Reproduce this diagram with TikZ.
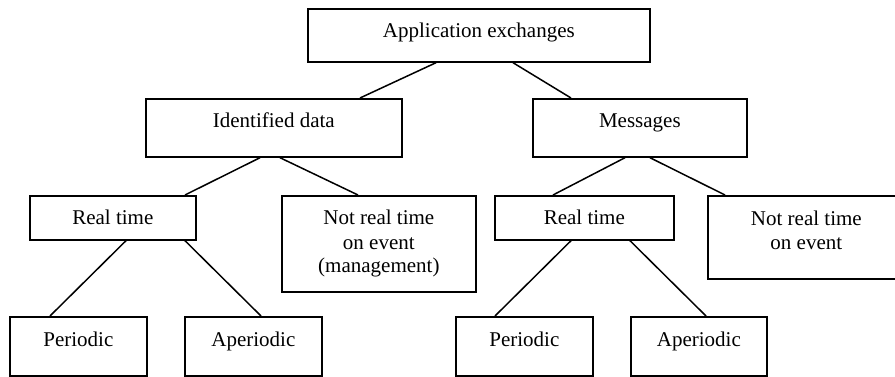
\documentclass[tikz,border=0pt]{standalone}
\usepackage{fontspec}
\setmainfont{Liberation Serif}
\tikzset{
  box/.style={draw=black, line width=1.7pt, rectangle, inner sep=0pt, anchor=north west},
  lbl/.style={anchor=north, inner sep=0pt, align=center, font=\fontsize{21}{24}\selectfont},
  link/.style={draw=black, line width=1.5pt}
}
\begin{document}
\begin{tikzpicture}[x=1pt,y=-1pt]
\useasboundingbox (0,0) rectangle (895,377);
% boxes
\node[box, minimum width=342pt, minimum height=53pt] (app) at (307,8) {};
\node[box, minimum width=256pt, minimum height=58pt] (idd) at (145,98) {};
\node[box, minimum width=214pt, minimum height=58pt] (msg) at (532,98) {};
\node[box, minimum width=166pt, minimum height=44pt] (rtl) at (29,195) {};
\node[box, minimum width=194pt, minimum height=96pt] (nrl) at (281,195) {};
\node[box, minimum width=179pt, minimum height=44pt] (rtr) at (494,195) {};
\node[box, minimum width=197pt, minimum height=83pt] (nrr) at (707,195) {};
\node[box, minimum width=137pt, minimum height=59pt] (pl) at (9,316) {};
\node[box, minimum width=137pt, minimum height=59pt] (al) at (184,316) {};
\node[box, minimum width=137pt, minimum height=59pt] (pr) at (455,316) {};
\node[box, minimum width=136pt, minimum height=59pt] (ar) at (630,316) {};
% labels
\node[lbl] (tapp) at ([yshift=-13pt]app.north) {\strut Application exchanges};
\node[lbl] (tidd) at ([yshift=-13pt]idd.north) {\strut Identified data};
\node[lbl] (tmsg) at ([yshift=-13pt]msg.north) {\strut Messages};
\node[lbl] (trtl) at ([yshift=-13pt]rtl.north) {\strut Real time};
\node[lbl] (tnrl) at ([yshift=-13pt]nrl.north) {\strut Not real time\\\strut on event\\\strut (management)};
\node[lbl] (trtr) at ([yshift=-13pt]rtr.north) {\strut Real time};
\node[lbl] (tnrr) at ([yshift=-13pt]nrr.north) {\strut Not real time\\\strut on event};
\node[lbl] (tpl) at ([yshift=-13pt]pl.north) {\strut Periodic};
\node[lbl] (tal) at ([yshift=-13pt]al.north) {\strut Aperiodic};
\node[lbl] (tpr) at ([yshift=-13pt]pr.north) {\strut Periodic};
\node[lbl] (tar) at ([yshift=-13pt]ar.north) {\strut Aperiodic};
% connectors
\draw[link] ([xshift=129pt]app.south west) -- ([xshift=215pt]idd.north west);
\draw[link] ([xshift=206pt]app.south west) -- ([xshift=39pt]msg.north west);
\draw[link] ([xshift=115pt]idd.south west) -- ([xshift=156pt]rtl.north west);
\draw[link] ([xshift=135pt]idd.south west) -- ([xshift=77pt]nrl.north west);
\draw[link] ([xshift=93pt]msg.south west) -- ([xshift=59pt]rtr.north west);
\draw[link] ([xshift=118pt]msg.south west) -- ([xshift=18pt]nrr.north west);
\draw[link] ([xshift=97pt]rtl.south west) -- ([xshift=41pt]pl.north west);
\draw[link] ([xshift=156pt]rtl.south west) -- ([xshift=77pt]al.north west);
\draw[link] ([xshift=77pt]rtr.south west) -- ([xshift=40pt]pr.north west);
\draw[link] ([xshift=136pt]rtr.south west) -- ([xshift=76pt]ar.north west);
\end{tikzpicture}
\end{document}
